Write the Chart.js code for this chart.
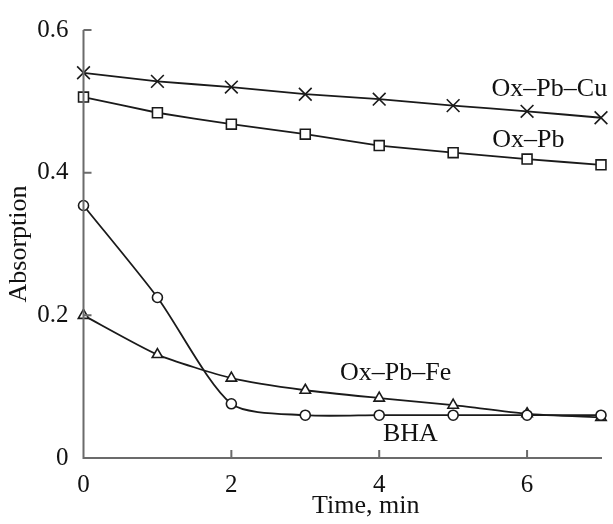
<!DOCTYPE html>
<html>
<head>
<meta charset="utf-8">
<script src="https://cdn.jsdelivr.net/npm/chart.js@4.4.0/dist/chart.umd.min.js"></script>
<style>
  html, body { margin: 0; padding: 0; background: #fff; }
  #wrap { width: 613px; height: 524px; }
</style>
</head>
<body>
<div id="wrap"><canvas id="c" width="613" height="524"></canvas></div>
<script>
const times = [0, 1, 2, 3, 4, 5, 6, 7];
const oxPbCu = [0.540, 0.528, 0.520, 0.510, 0.503, 0.494, 0.486, 0.477];
const oxPb   = [0.506, 0.484, 0.468, 0.454, 0.438, 0.428, 0.419, 0.411];
const bha    = [0.354, 0.225, 0.076, 0.060, 0.060, 0.060, 0.060, 0.060];
const oxPbFe = [0.200, 0.145, 0.112, 0.095, 0.084, 0.074, 0.062, 0.057];

const xTicks = [2, 4, 6];
const yTicks = [0.2, 0.4, 0.6];

// curve labels, in data coordinates (left edge, baseline)
const curveLabels = [
  { text: "Ox\u2013Pb\u2013Cu", x: 5.52, y: 0.507 },
  { text: "Ox\u2013Pb",         x: 5.53, y: 0.436 },
  { text: "Ox\u2013Pb\u2013Fe", x: 3.47, y: 0.110 },
  { text: "BHA",                x: 4.05, y: 0.024 }
];

const SERIF = "Liberation Serif";
const AXIS_COLOR = "#6b6b6b";
const LINE_COLOR = "#1a1a1a";

const pts = (ys) => times.map((t, i) => ({ x: t, y: ys[i] }));

const series = (label, ys, style, radius, smooth) => ({
  label,
  data: pts(ys),
  borderColor: LINE_COLOR,
  borderWidth: 1.8,
  backgroundColor: "#fff",
  pointStyle: style,
  pointRadius: radius,
  pointBorderColor: LINE_COLOR,
  pointBackgroundColor: "#fff",
  pointBorderWidth: 1.6,
  tension: smooth,
  clip: false,
  fill: false
});

// axis lines with inward ticks, curve labels and x title
const decor = {
  id: "decor",
  afterDatasetsDraw(chart) {
    const { ctx, scales: { x, y } } = chart;
    const x0 = x.getPixelForValue(0), x7 = x.getPixelForValue(7);
    const y0 = y.getPixelForValue(0), yTop = y.getPixelForValue(0.6);
    ctx.save();
    ctx.strokeStyle = AXIS_COLOR;
    ctx.lineWidth = 2;
    ctx.beginPath();
    ctx.moveTo(x0, yTop);
    ctx.lineTo(x0, y0);
    ctx.lineTo(x7 + 1, y0);
    yTicks.forEach(v => {
      const p = y.getPixelForValue(v);
      ctx.moveTo(x0, p);
      ctx.lineTo(x0 + 8, p);
    });
    xTicks.forEach(v => {
      const p = x.getPixelForValue(v);
      ctx.moveTo(p, y0);
      ctx.lineTo(p, y0 - 8);
    });
    ctx.stroke();

    ctx.fillStyle = "#111";
    ctx.font = "26px " + SERIF;
    ctx.textBaseline = "alphabetic";
    ctx.textAlign = "left";
    curveLabels.forEach(l => {
      ctx.fillText(l.text, x.getPixelForValue(l.x), y.getPixelForValue(l.y));
    });

    ctx.fillText("Time, min", 312, 513);
    ctx.restore();
  }
};

new Chart(document.getElementById("c"), {
  type: "line",
  data: {
    datasets: [
      series("Ox-Pb-Cu", oxPbCu, "crossRot", 9, 0.1),
      series("Ox-Pb", oxPb, "rect", 7, 0.1),
      series("BHA", bha, "circle", 5, 0.25),
      series("Ox-Pb-Fe", oxPbFe, "triangle", 6, 0.2)
    ]
  },
  options: {
    responsive: false,
    animation: false,
    layout: { padding: { top: 24, right: 12, left: 0, bottom: 0 } },
    plugins: { legend: { display: false }, tooltip: { enabled: false } },
    scales: {
      x: {
        type: "linear",
        min: 0, max: 7,
        afterFit: s => { s.height = 66; },
        afterBuildTicks: s => { s.ticks = [0, 2, 4, 6].map(v => ({ value: v })); },
        grid: { display: false, drawTicks: false },
        border: { display: false },
        ticks: { color: "#111", font: { family: SERIF, size: 25 }, padding: 12 },
        title: { display: false }
      },
      y: {
        min: 0, max: 0.6,
        afterFit: s => { s.width = 83.5; },
        afterBuildTicks: s => { s.ticks = [0, 0.2, 0.4, 0.6].map(v => ({ value: v })); },
        grid: { display: false, drawTicks: false },
        border: { display: false },
        ticks: {
          color: "#111",
          font: { family: SERIF, size: 25 },
          padding: 15,
          callback: v => v === 0 ? "0" : v.toFixed(1)
        },
        title: {
          display: true,
          text: "Absorption",
          color: "#111",
          font: { family: SERIF, size: 26 },
          padding: { top: 4, bottom: 4 }
        }
      }
    }
  },
  plugins: [decor]
});
</script>
</body>
</html>
